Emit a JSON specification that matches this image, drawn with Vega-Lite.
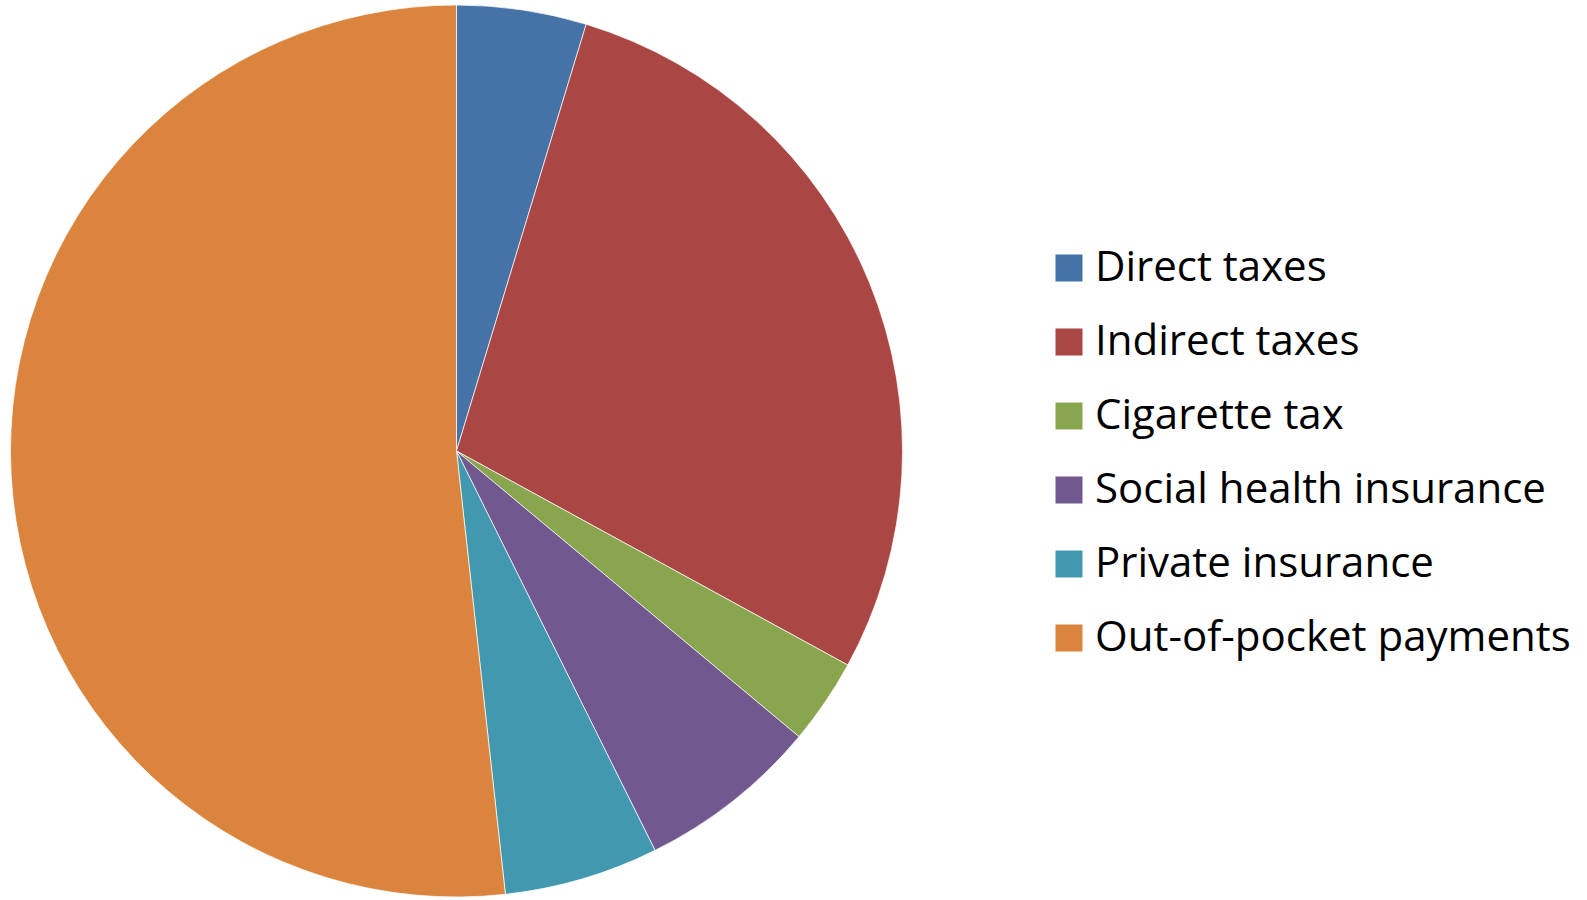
{
  "$schema": "https://vega.github.io/schema/vega-lite/v6.json",
  "width": 913,
  "height": 902,
  "padding": 0,
  "background": "white",
  "data": {
    "values": [
      {"source": "Direct taxes", "share": 4.7, "idx": 1},
      {"source": "Indirect taxes", "share": 28.3, "idx": 2},
      {"source": "Cigarette tax", "share": 3.1, "idx": 3},
      {"source": "Social health insurance", "share": 6.6, "idx": 4},
      {"source": "Private insurance", "share": 5.6, "idx": 5},
      {"source": "Out-of-pocket payments", "share": 51.8, "idx": 6}
    ]
  },
  "mark": {"type": "arc", "outerRadius": 446, "stroke": "#ffffff", "strokeWidth": 0.7},
  "encoding": {
    "theta": {"field": "share", "type": "quantitative", "stack": true},
    "order": {"field": "idx", "type": "quantitative"},
    "color": {
      "field": "source",
      "type": "nominal",
      "sort": null,
      "scale": {
        "domain": ["Direct taxes", "Indirect taxes", "Cigarette tax", "Social health insurance", "Private insurance", "Out-of-pocket payments"],
        "range": ["#4572A7", "#AA4643", "#89A54E", "#71588F", "#4198AF", "#DB843D"]
      },
      "legend": {
        "title": null,
        "orient": "none",
        "legendX": 1048,
        "legendY": 247,
        "symbolType": "square",
        "symbolSize": 729,
        "symbolStrokeWidth": 0,
        "labelFont": "Open Sans",
        "labelFontSize": 42,
        "labelColor": "#000000",
        "labelOffset": 5,
        "labelLimit": 600,
        "rowPadding": 32
      }
    }
  },
  "config": {"view": {"stroke": null}}
}
